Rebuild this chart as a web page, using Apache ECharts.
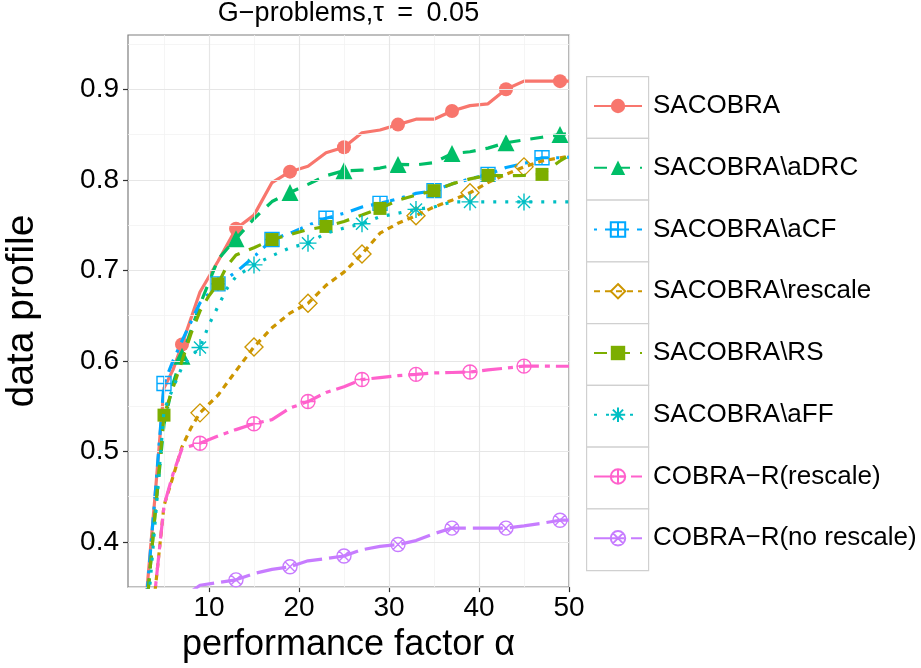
<!DOCTYPE html>
<html>
<head>
<meta charset="utf-8">
<script src="https://cdn.jsdelivr.net/npm/echarts@6/dist/echarts.min.js"></script>
<style>
html,body{margin:0;padding:0;background:#fff;}
#chart{width:921px;height:668px;}
</style>
</head>
<body>
<div id="chart"></div>
<script>
// ---------- data ----------
const TITLE = 'G\u2212problems,\u03c4\u2002=\u20020.05';
const X_NAME = 'performance factor \u03b1';
const Y_NAME = 'data profile';
const X_TICKS = [10, 20, 30, 40, 50];
const Y_TICKS = [0.4, 0.5, 0.6, 0.7, 0.8, 0.9];
const X_MINOR = [5, 15, 25, 35, 45];
const Y_MINOR = [0.35, 0.45, 0.55, 0.65, 0.75, 0.85, 0.95];

const NAMES = ['SACOBRA', 'SACOBRA\\aDRC', 'SACOBRA\\aCF', 'SACOBRA\\rescale',
  'SACOBRA\\RS', 'SACOBRA\\aFF', 'COBRA\u2212R(rescale)', 'COBRA\u2212R(no rescale)'];

const X_SACOBRA = [3,4,5,6,7,9,11,13,15,17,19,21,23,25,27,29,31,33,35,37,39,41,43,45,49,50];
const Y_SACOBRA = [0.335,0.45,0.57,0.59,0.618,0.676,0.710,0.746,0.761,0.797,0.809,0.815,0.830,0.836,0.852,0.855,0.861,0.867,0.867,0.876,0.882,0.884,0.900,0.909,0.909,0.909];
const M_SACOBRA = [7,13,19,25,31,37,43,49];

const X_ADRC = [3,4,5,6,7,9,11,13,15,17,19,21,23,25,27,29,31,33,35,37,39,41,43,45,47,49,50];
const Y_ADRC = [0.32,0.43,0.53,0.575,0.605,0.662,0.712,0.735,0.757,0.776,0.786,0.795,0.8045,0.810,0.8106,0.813,0.817,0.8165,0.819,0.829,0.831,0.835,0.841,0.844,0.847,0.850,0.851];
const M_ADRC = [7,13,19,25,31,37,43,49];

const X_ACF = [3,4,5,6,7,9,11,13,15,17,19,21,23,25,27,29,31,33,35,37,39,41,43,45,47,49,50];
const Y_ACF = [0.33,0.45,0.575,0.600,0.622,0.664,0.685,0.698,0.715,0.734,0.741,0.7496,0.7575,0.763,0.770,0.774,0.779,0.785,0.788,0.7955,0.801,0.806,0.8136,0.818,0.8244,0.8244,0.825];
const M_ACF = [5,11,17,23,29,35,41,47];

const X_RESCALE = [3,4,5,6,7,8,9,11,13,15,17,19,21,23,25,27,29,31,33,35,37,39,41,43,45,47,49,50];
const Y_RESCALE = [0.2,0.345,0.44,0.472,0.505,0.526,0.5425,0.562,0.589,0.6154,0.6365,0.6527,0.6636,0.6834,0.698,0.718,0.741,0.752,0.7604,0.770,0.7775,0.7857,0.797,0.806,0.8143,0.8208,0.8244,0.826];
const M_RESCALE = [9,15,21,27,33,39,45];

const X_RS = [3,4,5,6,7,8,9,10,11,12,13,15,17,19,21,23,25,27,29,31,33,35,37,39,41,43,45,47,48,49,50];
const Y_RS = [0.32,0.43,0.540,0.570,0.600,0.630,0.655,0.672,0.685,0.705,0.717,0.725,0.734,0.7395,0.745,0.7485,0.754,0.761,0.7684,0.7775,0.783,0.788,0.7955,0.801,0.805,0.8045,0.805,0.806,0.8136,0.8208,0.827];
const M_RS = [5,11,17,23,29,35,41,47];

const X_AFF = [3,4,5,6,7,8,9,10,11,12,13,15,17,19,21,23,25,27,29,31,33,35,37,39,45,50];
const Y_AFF = [0.30,0.42,0.545,0.570,0.593,0.605,0.6147,0.640,0.660,0.680,0.693,0.706,0.716,0.725,0.730,0.741,0.7467,0.7514,0.7593,0.763,0.7673,0.770,0.7756,0.7756,0.7756,0.7756];
const M_AFF = [9,15,21,27,33,39,45];

const X_CR = [3,4,5,6,7,9,11,13,15,17,19,21,23,25,27,29,31,33,35,37,39,41,43,45,50];
const Y_CR = [0.2,0.345,0.44,0.475,0.503,0.509,0.517,0.524,0.5305,0.535,0.5478,0.555,0.565,0.5714,0.5793,0.5815,0.5836,0.585,0.5866,0.5871,0.5876,0.590,0.592,0.5941,0.594];
const M_CR = [9,15,21,27,33,39,45];

const X_CNR = [7,8,9,11,13,15,17,19,21,23,25,27,29,31,33,35,37,39,41,43,45,47,49,50];
const Y_CNR = [0.30,0.345,0.352,0.355,0.358,0.365,0.3696,0.3725,0.379,0.3815,0.3844,0.3913,0.395,0.397,0.4014,0.409,0.4152,0.4152,0.4152,0.4152,0.4177,0.4206,0.4239,0.424];
const M_CNR = [13,19,25,31,37,43,49];

// ---------- styles ----------
const FONT = '"Liberation Sans", Arial, Helvetica, sans-serif';
const P_SQPLUS = 'path://M0,0L20,0L20,20L0,20Z M10,0L10,20 M0,10L20,10';
const P_AST = 'path://M10,0L10,20 M0,10L20,10 M2.93,2.93L17.07,17.07 M17.07,2.93L2.93,17.07';
const P_CPLUS = 'path://M0,10A10,10 0 1,1 20,10A10,10 0 1,1 0,10Z M10,0L10,20 M0,10L20,10';
const P_CX = 'path://M0,10A10,10 0 1,1 20,10A10,10 0 1,1 0,10Z M2.93,2.93L17.07,17.07 M17.07,2.93L2.93,17.07';

const LW = 3.2;
const SPECS = [
  {x: X_SACOBRA, y: Y_SACOBRA, m: M_SACOBRA, color: '#F8766D', dash: 'solid', symbol: 'circle', size: 14, open: false},
  {x: X_ADRC, y: Y_ADRC, m: M_ADRC, color: '#00BE67', dash: [13, 10], symbol: 'triangle', size: 17, open: false},
  {x: X_ACF, y: Y_ACF, m: M_ACF, color: '#00A9FF', dash: [3, 8, 13, 8], symbol: P_SQPLUS, size: 14, open: true},
  {x: X_RESCALE, y: Y_RESCALE, m: M_RESCALE, color: '#CD9600', dash: [6, 5], symbol: 'diamond', size: 18, open: true},
  {x: X_RS, y: Y_RS, m: M_RS, color: '#7CAE00', dash: [13, 10], symbol: 'rect', size: 13, open: false},
  {x: X_AFF, y: Y_AFF, m: M_AFF, color: '#00BFC4', dash: [3, 9], symbol: P_AST, size: 17, open: true},
  {x: X_CR, y: Y_CR, m: M_CR, color: '#FF61CC', dash: [20, 6, 5, 6], symbol: P_CPLUS, size: 14, open: true},
  {x: X_CNR, y: Y_CNR, m: M_CNR, color: '#C77CFF', dash: [30, 7], symbol: P_CX, size: 14, open: true}
];

const series = [];
// grid lines (ggplot theme_bw style) drawn via markLine on an empty helper series
const gridLines = [];
X_MINOR.forEach(v => gridLines.push({xAxis: v, lineStyle: {color: '#F2F2F2', width: 0.8, type: 'solid'}}));
Y_MINOR.forEach(v => gridLines.push({yAxis: v, lineStyle: {color: '#F2F2F2', width: 0.8, type: 'solid'}}));
X_TICKS.forEach(v => gridLines.push({xAxis: v, lineStyle: {color: '#E6E6E6', width: 1.2, type: 'solid'}}));
Y_TICKS.forEach(v => gridLines.push({yAxis: v, lineStyle: {color: '#E6E6E6', width: 1.2, type: 'solid'}}));
series.push({
  type: 'line', name: '__grid', data: [], silent: true, z: 0,
  markLine: {silent: true, symbol: ['none', 'none'], label: {show: false}, animation: false, data: gridLines}
});

SPECS.forEach((s, i) => {
  const data = s.x.map((xv, j) => {
    const item = {value: [xv, s.y[j]]};
    if (s.m.indexOf(xv) < 0) item.symbol = 'none';
    return item;
  });
  series.push({
    type: 'line', name: NAMES[i], data: data, z: 2 + i,
    symbol: s.symbol, symbolSize: s.size, showSymbol: true, showAllSymbol: true,
    clip: true,
    lineStyle: {color: s.color, width: LW, type: s.dash, cap: 'butt'},
    itemStyle: s.open
      ? {color: 'rgba(255,255,255,0)', borderColor: s.color, borderWidth: 1.4}
      : {color: s.color, borderWidth: 0},
    emphasis: {disabled: true}
  });
});

// legend key boxes and title
const graphics = [];
const KEY_TOP = 76, KEY_H = 61.75;
for (let i = 0; i < NAMES.length; i++) {
  graphics.push({type: 'rect', left: 586, top: KEY_TOP + i * KEY_H, z: -1, silent: true,
    shape: {width: 62, height: KEY_H}, style: {fill: '#fff', stroke: '#D0D0D0', lineWidth: 1.2}});
}
graphics.push({type: 'text', x: 348.5, y: 0, silent: true,
  style: {text: TITLE, font: '27px ' + FONT, fill: '#000', textAlign: 'center', textVerticalAlign: 'top'}});

const chart = echarts.init(document.getElementById('chart'), null, {renderer: 'canvas'});
chart.setOption({
  animation: false,
  backgroundColor: '#fff',
  graphic: graphics,
  grid: {left: 128, right: 352, top: 35, bottom: 71, show: true, borderColor: '#7F7F7F', borderWidth: 1.2, backgroundColor: 'transparent'},
  xAxis: {
    type: 'value', min: 1, max: 50,
    name: X_NAME, nameLocation: 'middle', nameGap: 32,
    nameTextStyle: {fontSize: 36, fontFamily: FONT, color: '#000'},
    axisLine: {show: false},
    splitLine: {show: false},
    axisTick: {show: true, customValues: X_TICKS, length: 5, lineStyle: {color: '#333', width: 1.2}},
    axisLabel: {customValues: X_TICKS, fontSize: 28, fontFamily: FONT, color: '#000', margin: 7}
  },
  yAxis: {
    type: 'value', min: 0.35, max: 0.96,
    name: Y_NAME, nameLocation: 'middle', nameGap: 86, nameRotate: 90,
    nameTextStyle: {fontSize: 39, fontFamily: FONT, color: '#000'},
    axisLine: {show: false},
    splitLine: {show: false},
    axisTick: {show: true, customValues: Y_TICKS, length: 5, lineStyle: {color: '#333', width: 1.2}},
    axisLabel: {customValues: Y_TICKS, fontSize: 28, fontFamily: FONT, color: '#000', margin: 9,
      formatter: v => Number(v).toFixed(1)}
  },
  legend: {
    data: NAMES, orient: 'vertical', left: 593, top: 91, padding: 0,
    itemWidth: 48, itemHeight: 18, itemGap: 31.75,
    selectedMode: false,
    textStyle: {fontSize: 26, fontFamily: FONT, color: '#000', lineHeight: 30, padding: [0, 0, 0, 6]}
  },
  series: series
});
</script>
</body>
</html>
